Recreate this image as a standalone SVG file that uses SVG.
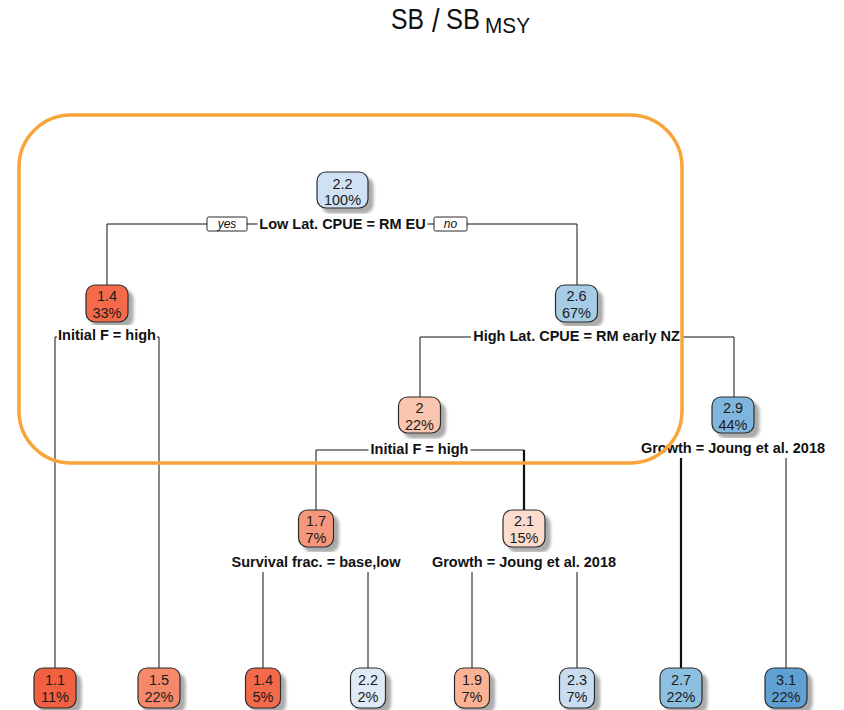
<svg xmlns="http://www.w3.org/2000/svg" width="844" height="710" viewBox="0 0 844 710">
<defs>
<filter id="ds" x="-30%" y="-30%" width="170%" height="170%">
<feGaussianBlur in="SourceAlpha" stdDeviation="1.8"/>
<feOffset dx="5" dy="5" result="b"/>
<feFlood flood-color="#000" flood-opacity="0.33"/>
<feComposite in2="b" operator="in"/>
<feMerge><feMergeNode/><feMergeNode in="SourceGraphic"/></feMerge>
</filter>
</defs>
<style>
.box{stroke:#2b2b2b;stroke-width:1.2;filter:url(#ds)}
.nt{font-family:"Liberation Sans",Arial,sans-serif;font-size:14.5px;fill:#1b1b1b;text-anchor:middle}
.lb{font-family:"Liberation Sans",Arial,sans-serif;font-size:14.5px;font-weight:bold;fill:#111;text-anchor:middle}
.lbg{fill:#fff}
.con{fill:none;stroke:#111;stroke-width:1}
.thick{fill:none;stroke:#111;stroke-width:2.2}
.yn{fill:#fff;stroke:#111;stroke-width:0.9}
.ynt{font-family:"Liberation Sans",Arial,sans-serif;font-size:12px;font-style:italic;fill:#111;text-anchor:middle}
.ttl{font-family:"Liberation Sans",Arial,sans-serif;fill:#111}
</style>
<rect width="844" height="710" fill="#fff"/>
<g id="title">
<text class="ttl" x="391" y="29" font-size="29" textLength="33" lengthAdjust="spacingAndGlyphs">SB</text>
<text class="ttl" font-size="34" transform="translate(432,32) scale(0.8,1)">/</text>
<text class="ttl" x="446" y="29" font-size="29" textLength="34" lengthAdjust="spacingAndGlyphs">SB</text>
<text class="ttl" x="485" y="33" font-size="22" textLength="45" lengthAdjust="spacingAndGlyphs">MSY</text>
</g>
<g id="connectors">
<path class="con" d="M107,285 V224 H577 V285"/>
<path class="con" d="M55,668 V337 H159 V668"/>
<path class="con" d="M420,397 V337 H734 V397"/>
<path class="con" d="M316,510 V450 H524"/>
<path class="thick" d="M524,450 V510"/>
<path class="thick" d="M681,668 V449"/>
<path class="con" d="M681,449 H786 V668"/>
<path class="con" d="M263,668 V562 H368 V668"/>
<path class="con" d="M472,668 V562 H577 V668"/>
</g>
<g id="n1">
<rect class="box" x="317" y="172" width="51" height="36" rx="9" fill="#cfe1f3"/>
<text class="nt" x="342.5" y="188.5">2.2</text>
<text class="nt" x="342.5" y="204.5">100%</text>
<rect class="lbg" x="257.5" y="214" width="170" height="20"/>
<text class="lb" x="342.5" y="229">Low Lat. CPUE = RM EU</text>
</g>
<g id="yesno">
<rect class="yn" x="207" y="217" width="40" height="14" rx="1.5"/>
<text class="ynt" x="227" y="228">yes</text>
<rect class="yn" x="434" y="217" width="33" height="14" rx="1.5"/>
<text class="ynt" x="450.5" y="228">no</text>
</g>
<g id="n2">
<rect class="box" x="86" y="285" width="42" height="37" rx="9" fill="#f46a4b"/>
<text class="nt" x="107" y="301">1.4</text>
<text class="nt" x="107" y="318">33%</text>
<rect class="lbg" x="57" y="325" width="100" height="20"/>
<text class="lb" x="107" y="340">Initial F = high</text>
</g>
<g id="n3">
<rect class="box" x="555.5" y="285" width="42" height="37" rx="9" fill="#a7cce6"/>
<text class="nt" x="576.5" y="301">2.6</text>
<text class="nt" x="576.5" y="318">67%</text>
<rect class="lbg" x="471" y="326" width="211" height="20"/>
<text class="lb" x="576.5" y="341">High Lat. CPUE = RM early NZ</text>
</g>
<g id="n6">
<rect class="box" x="398.5" y="397" width="42" height="36" rx="9" fill="#f9c5af"/>
<text class="nt" x="419.5" y="413">2</text>
<text class="nt" x="419.5" y="429.5">22%</text>
<rect class="lbg" x="368.5" y="439" width="102" height="20"/>
<text class="lb" x="419.5" y="454">Initial F = high</text>
</g>
<g id="n7">
<rect class="box" x="712" y="397" width="42" height="36" rx="9" fill="#80b6dd"/>
<text class="nt" x="733" y="413">2.9</text>
<text class="nt" x="733" y="429.5">44%</text>
<rect class="lbg" x="639" y="438" width="188" height="20"/>
<text class="lb" x="733" y="453">Growth = Joung et al. 2018</text>
</g>
<g id="n12">
<rect class="box" x="298.5" y="510" width="35" height="37" rx="9" fill="#f5977b"/>
<text class="nt" x="316" y="526">1.7</text>
<text class="nt" x="316" y="543">7%</text>
<rect class="lbg" x="229.5" y="552" width="173" height="20"/>
<text class="lb" x="316" y="567">Survival frac. = base,low</text>
</g>
<g id="n13">
<rect class="box" x="503" y="510" width="42" height="37" rx="9" fill="#fcdccd"/>
<text class="nt" x="524" y="526">2.1</text>
<text class="nt" x="524" y="543">15%</text>
<rect class="lbg" x="430" y="552" width="188" height="20"/>
<text class="lb" x="524" y="567">Growth = Joung et al. 2018</text>
</g>
<g id="leaf4">
<rect class="box" x="34" y="668" width="42" height="40" rx="9" fill="#f1603f"/>
<text class="nt" x="55" y="684.5">1.1</text>
<text class="nt" x="55" y="702">11%</text>
</g>
<g id="leaf5">
<rect class="box" x="138" y="668" width="42" height="40" rx="9" fill="#f5896a"/>
<text class="nt" x="159" y="684.5">1.5</text>
<text class="nt" x="159" y="702">22%</text>
</g>
<g id="leaf24">
<rect class="box" x="245.5" y="668" width="35" height="40" rx="9" fill="#f36a4b"/>
<text class="nt" x="263" y="684.5">1.4</text>
<text class="nt" x="263" y="702">5%</text>
</g>
<g id="leaf25">
<rect class="box" x="350.5" y="668" width="35" height="40" rx="9" fill="#deeaf6"/>
<text class="nt" x="368" y="684.5">2.2</text>
<text class="nt" x="368" y="702">2%</text>
</g>
<g id="leaf26">
<rect class="box" x="454.5" y="668" width="35" height="40" rx="9" fill="#f9b294"/>
<text class="nt" x="472" y="684.5">1.9</text>
<text class="nt" x="472" y="702">7%</text>
</g>
<g id="leaf27">
<rect class="box" x="559.5" y="668" width="35" height="40" rx="9" fill="#c9dcf0"/>
<text class="nt" x="577" y="684.5">2.3</text>
<text class="nt" x="577" y="702">7%</text>
</g>
<g id="leaf14">
<rect class="box" x="660" y="668" width="42" height="40" rx="9" fill="#8cbfe0"/>
<text class="nt" x="681" y="684.5">2.7</text>
<text class="nt" x="681" y="702">22%</text>
</g>
<g id="leaf15">
<rect class="box" x="765" y="668" width="42" height="40" rx="9" fill="#5fa1d2"/>
<text class="nt" x="786" y="684.5">3.1</text>
<text class="nt" x="786" y="702">22%</text>
</g>
<g id="highlight">
<rect x="19" y="115" width="663" height="348" rx="52" fill="none" stroke="#f9a53c" stroke-width="3.5"/>
</g>
</svg>
